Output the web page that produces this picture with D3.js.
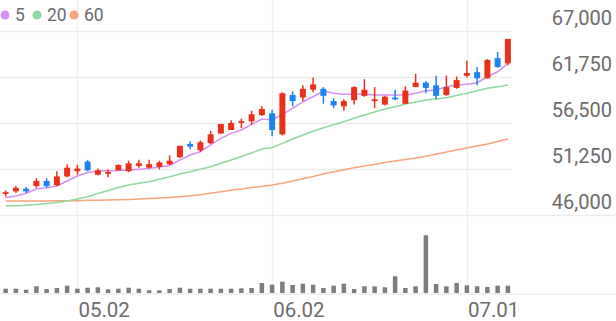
<!DOCTYPE html>
<html>
<head>
<meta charset="utf-8">
<script src="https://cdnjs.cloudflare.com/ajax/libs/d3/7.8.5/d3.min.js"></script>
<style>
  body { margin: 0; background: #fff; }
  svg { display: block; font-family: Roboto, sans-serif; }
</style>
</head>
<body>
<div id="chart"></div>
<script>
// trading days (only three of them get a label)
var dates = ["04.20", "04.21", "04.24", "04.25", "04.26", "04.27", "04.28", "05.02", "05.03", "05.08",
    "05.09", "05.10", "05.11", "05.12", "05.15", "05.16", "05.17", "05.18", "05.19", "05.22",
    "05.23", "05.24", "05.25", "05.26", "05.30", "05.31", "06.02", "06.05", "06.07", "06.08",
    "06.09", "06.12", "06.13", "06.14", "06.15", "06.16", "06.19", "06.20", "06.21", "06.22",
    "06.23", "06.26", "06.27", "06.28", "06.29", "07.01", "07.04", "07.05", "07.06", "07.07"];

var open = [48400, 48700, 49000, 49300, 49900, 49400, 50400, 51000, 52100, 50600,
    50700, 51100, 51000, 51600, 51400, 51500, 51800, 52600, 54100, 53400,
    54200, 55300, 55700, 56500, 56700, 57400, 57600, 55200, 59700, 59400,
    60300, 60400, 59000, 58400, 59100, 59600, 59000, 58600, 59400, 58700,
    60600, 61100, 60800, 59700, 60500, 61900, 62300, 61600, 63900, 63300];
var close = [48600, 49100, 48700, 49900, 49300, 50400, 51400, 51300, 51100, 51100,
    50900, 51700, 51900, 51900, 51800, 52000, 52200, 53900, 53800, 54300,
    55200, 56400, 56500, 56700, 57500, 58100, 55700, 59900, 59000, 60400,
    60900, 59600, 58500, 59000, 60600, 60300, 59200, 59500, 59200, 60200,
    61100, 60500, 59600, 60600, 61400, 62200, 61600, 63700, 62900, 66100];
var high = [48800, 49300, 49200, 50200, 50200, 51000, 51800, 51700, 52300, 51300,
    51200, 51800, 52200, 52300, 52300, 52200, 52800, 53900, 54400, 54500,
    55600, 56400, 56800, 57000, 57900, 58400, 58000, 60000, 60100, 60800,
    61700, 60600, 59300, 59200, 60700, 61500, 60600, 59600, 60300, 60700,
    62100, 61300, 61900, 61900, 61800, 63600, 62900, 63800, 64600, 66100];
var low = [48100, 48500, 48500, 49100, 49100, 49300, 50300, 50600, 51000, 50500,
    50300, 51100, 50900, 51400, 51300, 51200, 51700, 52500, 53500, 53200,
    54100, 55300, 55700, 55900, 56300, 57300, 55000, 55100, 58400, 59000,
    60000, 58700, 58200, 57900, 58600, 59500, 58200, 58500, 59100, 58700,
    60600, 59900, 59200, 59600, 60400, 61700, 60800, 61600, 62800, 63100];

var volume = [215000, 215000, 165000, 335000, 200000, 250000, 365000, 215000, 265000, 285000,
    185000, 215000, 265000, 215000, 135000, 135000, 200000, 265000, 215000, 215000,
    215000, 215000, 215000, 235000, 250000, 500000, 415000, 565000, 400000, 465000,
    415000, 250000, 365000, 465000, 200000, 335000, 335000, 285000, 835000, 250000,
    335000, 2885000, 450000, 335000, 500000, 385000, 335000, 300000, 365000, 365000];

// moving averages
var ma5 = [47970, 48170, 48480, 48970, 49120, 49310, 49880, 50450, 50850, 51020,
    51060, 51080, 51140, 51220, 51310, 51480, 51650, 52280, 52850, 53220,
    53990, 54750, 55320, 55700, 56350, 56960, 56840, 57490, 58180, 58930,
    59500, 60150, 59890, 59780, 59780, 59780, 59700, 59700, 59700, 59700,
    59890, 60190, 60270, 60640, 60840, 60920, 61100, 61780, 62350, 63310];
var ma20 = [47030, 47060, 47110, 47200, 47310, 47430, 47600, 47830, 48090, 48450,
    48800, 49140, 49420, 49620, 49800, 50070, 50370, 50680, 50940, 51230,
    51510, 51900, 52280, 52680, 53080, 53530, 53700, 54180, 54670, 55130,
    55550, 55960, 56310, 56650, 57040, 57410, 57760, 58100, 58360, 58670,
    58900, 59120, 59240, 59390, 59640, 59890, 60180, 60460, 60650, 60840];
var ma60 = [47600, 47600, 47600, 47600, 47610, 47620, 47630, 47640, 47670, 47690,
    47710, 47750, 47780, 47830, 47870, 47930, 48010, 48090, 48190, 48310,
    48480, 48660, 48820, 48980, 49140, 49250, 49420, 49620, 49880, 50140,
    50390, 50680, 50930, 51160, 51390, 51590, 51760, 51990, 52160, 52330,
    52510, 52710, 52940, 53190, 53420, 53650, 53870, 54100, 54390, 54670];

var priceTicks = [46000, 51250, 56500, 61750, 67000];
var dateTicks = ["05.02", "06.02", "07.01"];
var maNames = ["5", "20", "60"];
var maColors = ["#d690f0", "#8fd8a0", "#f8a47c"];
var upColor = "#e8301c", downColor = "#1c84f2";

var width = 616, height = 321;

var svg = d3.select("#chart")
    .append("svg")
    .attr("width", width)
    .attr("height", height);

// scales
var x = d3.scaleBand().domain(dates).range([0.5, 513]);
var y = d3.scaleLinear().domain([46000, 67000]).range([215, 31]);
var yVol = d3.scaleLinear().domain([0, 3900000]).range([293, 215]);
function cx(d) { return x(d) + x.bandwidth() / 2; }

// horizontal grid
svg.append("g")
    .selectAll("line")
    .data(priceTicks)
    .enter()
    .append("line")
    .attr("x1", 0)
    .attr("x2", function (d) { return d == 46000 ? width : 511; })
    .attr("y1", function (d) { return Math.round(y(d)) + 0.5; })
    .attr("y2", function (d) { return Math.round(y(d)) + 0.5; })
    .attr("stroke", "#ececec")
    .attr("stroke-width", 1.5);

svg.append("line")
    .attr("x1", 0).attr("x2", width)
    .attr("y1", yVol(0) + 1).attr("y2", yVol(0) + 1)
    .attr("stroke", "#ececec")
    .attr("stroke-width", 1.5);

// vertical grid at labelled dates
svg.append("g")
    .selectAll("line")
    .data(dateTicks)
    .enter()
    .append("line")
    .attr("x1", function (d) { return Math.round(cx(d)) + 0.5; })
    .attr("x2", function (d) { return Math.round(cx(d)) + 0.5; })
    .attr("y1", 0)
    .attr("y2", yVol(0) + 1)
    .attr("stroke", "#efefef")
    .attr("stroke-width", 1.5);

// price labels
svg.append("g")
    .selectAll("text")
    .data(priceTicks)
    .enter()
    .append("text")
    .attr("x", 612)
    .attr("y", function (d) { return y(d) - 6; })
    .attr("text-anchor", "end")
    .attr("font-size", 20)
    .attr("fill", "#6b6b6b")
    .text(d3.format(","));

// date labels
svg.append("g")
    .selectAll("text")
    .data(dateTicks)
    .enter()
    .append("text")
    .attr("x", function (d) { return cx(d) + 1; })
    .attr("y", 316.5)
    .attr("font-size", 20.5)
    .attr("fill", "#6b6b6b")
    .text(function (d) { return d; });

// moving average lines
[ma60, ma20, ma5].forEach(function (ma, k) {
    svg.append("path")
        .datum(ma)
        .attr("d", d3.line()
            .x(function (d, i) { return cx(dates[i]); })
            .y(function (d) { return y(d); }))
        .attr("fill", "none")
        .attr("stroke", maColors[2 - k])
        .attr("stroke-width", 1.5);
});

// candles
var idx = d3.range(dates.length);
var candle = svg.append("g")
    .selectAll("g")
    .data(idx)
    .enter()
    .append("g")
    .attr("fill", function (i) { return close[i] >= open[i] ? upColor : downColor; })
    .attr("stroke", function (i) { return close[i] >= open[i] ? upColor : downColor; });

candle.append("line")
    .attr("x1", function (i) { return cx(dates[i]); })
    .attr("x2", function (i) { return cx(dates[i]); })
    .attr("y1", function (i) { return y(high[i]); })
    .attr("y2", function (i) { return y(low[i]); })
    .attr("stroke-width", 1.5);

candle.append("rect")
    .attr("x", function (i) { return cx(dates[i]) - 3; })
    .attr("width", 6)
    .attr("y", function (i) { return y(Math.max(open[i], close[i])); })
    .attr("height", function (i) { return Math.max(1.5, Math.abs(y(open[i]) - y(close[i]))); })
    .attr("stroke", "none");

// volume
svg.append("g")
    .selectAll("rect")
    .data(idx)
    .enter()
    .append("rect")
    .attr("x", function (i) { return cx(dates[i]) - 2.25; })
    .attr("width", 4.5)
    .attr("y", function (i) { return yVol(volume[i]); })
    .attr("height", function (i) { return yVol(0) - yVol(volume[i]); })
    .attr("fill", "#7d7d7d");

// legend
var legend = svg.append("g");
var legendX = [5, 37, 74];
maNames.forEach(function (name, k) {
    legend.append("circle")
        .attr("cx", legendX[k])
        .attr("cy", 15)
        .attr("r", 4.5)
        .attr("fill", maColors[k]);
    legend.append("text")
        .attr("x", legendX[k] + 10)
        .attr("y", 21)
        .attr("font-size", 17.5)
        .attr("fill", "#6b6b6b")
        .text(name);
});
</script>
</body>
</html>
